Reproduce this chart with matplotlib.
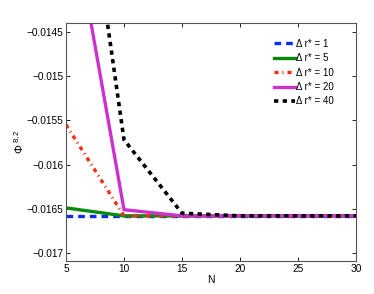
import matplotlib
matplotlib.use('Agg')
import matplotlib.pyplot as plt

plt.rcParams['font.family'] = ['Liberation Sans', 'DejaVu Sans']
plt.rcParams['mathtext.fontset'] = 'custom'
plt.rcParams['mathtext.rm'] = 'Liberation Sans'
plt.rcParams['mathtext.it'] = 'Liberation Sans'
plt.rcParams['axes.unicode_minus'] = True

# Data
N = [5, 10, 15, 20, 25, 30]
phi_r1 = [-0.01658, -0.01658, -0.01658, -0.01658, -0.01658, -0.01658]
phi_r5 = [-0.01649, -0.01658, -0.01658, -0.01658, -0.01658, -0.01658]
phi_r10 = [-0.01555, -0.01658, -0.01658, -0.01658, -0.01658, -0.01658]
phi_r20 = [-0.0128, -0.01651, -0.01658, -0.01658, -0.01658, -0.01658]
phi_r40 = [-0.0111, -0.01572, -0.01655, -0.01658, -0.01658, -0.01658]
labels = ['Δ r* = 1', 'Δ r* = 5', 'Δ r* = 10', 'Δ r* = 20', 'Δ r* = 40']
xticks = [5, 10, 15, 20, 25, 30]
yticks = [-0.017, -0.0165, -0.016, -0.0155, -0.015, -0.0145]
ytick_labels = ['\u22120.017', '\u22120.0165', '\u22120.016', '\u22120.0155', '\u22120.015', '\u22120.0145']

fig = plt.figure(figsize=(3.74, 2.94), dpi=100)
ax = fig.add_axes([66 / 374, 1 - 261 / 294, 290 / 374, 238 / 294])

ax.plot(N, phi_r1, color='#0b2cf5', linestyle=(0, (2, 1.5)), linewidth=2.4, label=labels[0])
ax.plot(N, phi_r5, color='#0a8a0a', linestyle='-', linewidth=2.4, label=labels[1])
ax.plot(N, phi_r10, color='#ff2a10', linestyle=(0, (1.2, 1.2, 0.3, 1.2)), linewidth=2.4, label=labels[2])
ax.plot(N, phi_r20, color='#cc33cc', linestyle='-', linewidth=2.4, label=labels[3])
ax.plot(N, phi_r40, color='black', linestyle=(0, (1.2, 1.2)), linewidth=2.6, label=labels[4])

ax.set_xlim(5, 30)
ax.set_ylim(-0.01709, -0.0144)
ax.set_xticks(xticks)
ax.set_yticks(yticks)
ax.set_yticklabels(ytick_labels)
ax.tick_params(direction='in', top=True, right=True, labelsize=7.3, length=3, width=0.6, pad=2)
for s in ax.spines.values():
    s.set_linewidth(0.8)
    s.set_color('#555555')

ax.set_xlabel('N', fontsize=7.5, labelpad=1)
ax.set_ylabel(r'$\Phi^{\ 8,2}$', fontsize=8, labelpad=0)

ax.legend(loc='upper right', bbox_to_anchor=(0.955, 0.97), frameon=False, fontsize=7,
          handlelength=2.2, handletextpad=0.1, labelspacing=0.45)

fig.savefig('out.png', dpi=100, facecolor='white')
